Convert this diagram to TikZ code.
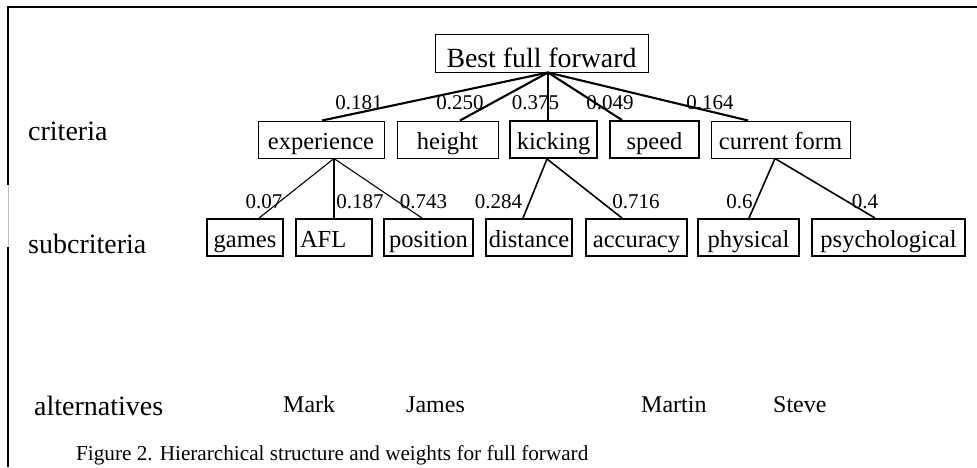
\documentclass[tikz,border=0pt]{standalone}
\usepackage{fontspec}
\setmainfont{Liberation Serif}
\newcommand\mytopfont{\fontsize{27.8}{30}\selectfont}
\newcommand\myboxfont{\fontsize{24.5}{28}\selectfont}
\newcommand\mynumfont{\fontsize{21}{24}\selectfont}
\newcommand\mysidefont{\fontsize{28}{32}\selectfont}
\newcommand\mynamefont{\fontsize{24}{28}\selectfont}
\newcommand\mycapfont{\fontsize{21.2}{24}\selectfont}
\begin{document}
\begin{tikzpicture}[x=1pt,y=-1pt,
  boxthin/.style={draw, line width=1pt, inner sep=0pt, minimum height=37pt, font=\myboxfont, text height=19.5pt, text depth=0pt},
  boxthick/.style={boxthin, line width=1.9pt},
  wlabel/.style={inner sep=0pt, font=\mynumfont},
  side/.style={inner sep=0pt, anchor=base west, font=\mysidefont},
  alt/.style={inner sep=0pt, anchor=base west, font=\mynamefont},
  linkmain/.style={line width=2.1pt},
  linkmid/.style={line width=1.6pt},
  linkthin/.style={line width=1.1pt},
  frameline/.style={line width=1.6pt}]
\useasboundingbox (0,0) rectangle (977,467);
% frame
\draw[frameline] (977,7) -- (8,7) -- (8,185);
\draw[line width=0.6pt, black!25] (8,185) -- (8,247);
\draw[frameline] (8,247) -- (8,467);
% goal
\node[boxthin, font=\mytopfont, minimum width=213pt, minimum height=38pt, text height=28pt, text depth=0pt] (top) at (541.5,53) {Best full forward};
% criteria
\node[boxthin, minimum width=126pt, text height=20pt] (exp) at (321,139.5) {experience};
\node[boxthin, minimum width=101pt, text height=20pt] (hgt) at (447.5,139.5) {height};
\node[boxthick, minimum width=87pt, text height=20pt] (kick) at (553.5,139.5) {kicking};
\node[boxthick, minimum width=89pt, text height=20pt] (spd) at (654.5,139.5) {speed};
\node[boxthin, minimum width=139pt, text height=20pt] (cform) at (780.5,139.5) {current form};
% subcriteria
\node[boxthick, minimum width=76pt] (games) at (245,237.5) {games};
\node[boxthick, minimum width=76pt, text width=68pt, inner xsep=4pt, align=left] (afl) at (334,237.5) {AFL};
\node[boxthick, minimum width=89pt] (pos) at (428.5,237.5) {position};
\node[boxthick, minimum width=86pt] (dist) at (529,237.5) {distance};
\node[boxthick, minimum width=101pt] (acc) at (636.5,237.5) {accuracy};
\node[boxthick, minimum width=101pt] (phys) at (748.5,237.5) {physical};
\node[boxthick, minimum width=153pt] (psych) at (888.5,237.5) {psychological};
% connectors goal -> criteria
\draw[linkmain] ([xshift=6.5pt]top.south) -- ([xshift=1pt]exp.north);
\draw[linkmain] ([xshift=6.5pt]top.south) -- ([xshift=12.5pt]hgt.north);
\draw[linkmain] ([xshift=6.5pt]top.south) -- ([xshift=-5.5pt]kick.north);
\draw[linkmain] ([xshift=6.5pt]top.south) -- ([xshift=-32.5pt]spd.north);
\draw[linkmain] ([xshift=6.5pt]top.south) -- ([xshift=-32.5pt]cform.north);
% criteria -> subcriteria
\draw[linkthin] ([xshift=13pt]exp.south) -- ([xshift=14pt]games.north);
\draw[linkthin] ([xshift=13pt]exp.south) -- (afl.north);
\draw[linkthin] ([xshift=13pt]exp.south) -- ([xshift=-6.5pt]pos.north);
\draw[linkmid] ([xshift=-6.5pt]kick.south) -- ([xshift=-6pt]dist.north);
\draw[linkmid] ([xshift=-6.5pt]kick.south) -- ([xshift=-14.5pt]acc.north);
\draw[linkmid] ([xshift=-5.5pt]cform.south) -- ([xshift=0.5pt]phys.north);
\draw[linkmid] ([xshift=-5.5pt]cform.south) -- ([xshift=-13.5pt]psych.north);
% weights
\node[wlabel] (w1) at (359,102.5) {0.181};
\node[wlabel] (w2) at (460,102.5) {0.250};
\node[wlabel] (w3) at (535.5,102.5) {0.375};
\node[wlabel] (w4) at (610,102.5) {0.049};
\node[wlabel] (w5) at (710,102.5) {0.164};
\node[wlabel] (w6) at (264,202) {0.07};
\node[wlabel] (w7) at (360,202) {0.187};
\node[wlabel] (w8) at (423.5,202) {0.743};
\node[wlabel] (w9) at (498.5,202) {0.284};
\node[wlabel] (w10) at (636,202) {0.716};
\node[wlabel] (w11) at (739.5,202) {0.6};
\node[wlabel] (w12) at (865,202) {0.4};
% level labels
\node[side] (lcrit) at (28,140) {criteria};
\node[side] (lsub) at (28,253) {subcriteria};
\node[side] (lalt) at (34,415) {alternatives};
% alternatives
\node[alt] (mark) at (283,412) {Mark};
\node[alt] (james) at (406,412) {James};
\node[alt] (martin) at (641,412) {Martin};
\node[alt] (steve) at (773,412) {Steve};
% caption
\node[inner sep=0pt, anchor=base west, font=\mycapfont] (cap) at (76,460) {Figure 2. Hierarchical structure and weights for full forward};
\end{tikzpicture}
\end{document}
